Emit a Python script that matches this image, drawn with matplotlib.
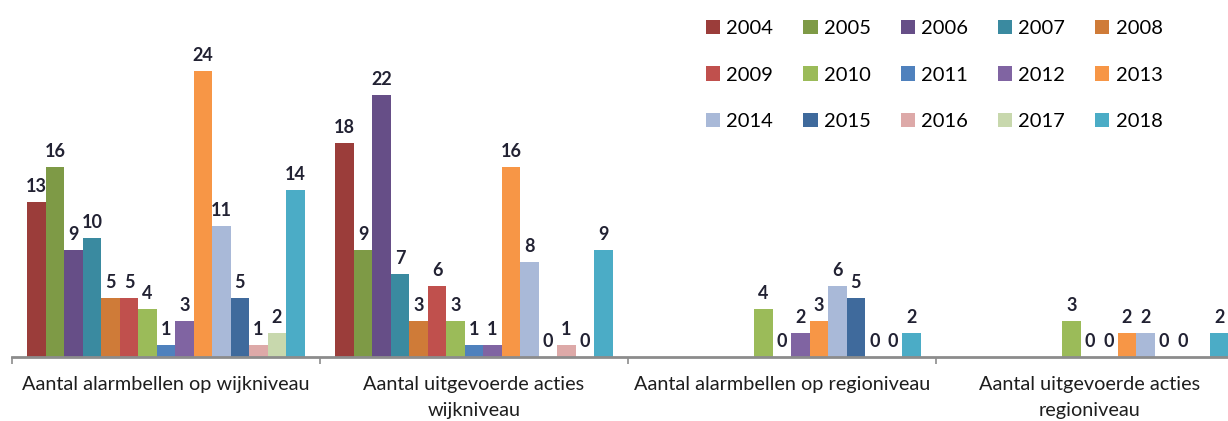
import numpy as np
import matplotlib
matplotlib.use("Agg")
import matplotlib.pyplot as plt

plt.rcParams['font.family'] = ['Lato', 'DejaVu Sans']

years = ['2004', '2005', '2006', '2007', '2008', '2009', '2010', '2011',
         '2012', '2013', '2014', '2015', '2016', '2017', '2018']
categories = ['Aantal alarmbellen op wijkniveau',
              'Aantal uitgevoerde acties\nwijkniveau',
              'Aantal alarmbellen op regioniveau',
              'Aantal uitgevoerde acties\nregioniveau']
# one list per category, values per year (None = no data)
alarm_wijk = [13, 16, 9, 10, 5, 5, 4, 1, 3, 24, 11, 5, 1, 2, 14]
acties_wijk = [18, 9, 22, 7, 3, 6, 3, 1, 1, 16, 8, 0, 1, 0, 9]
alarm_regio = [None, None, None, None, None, None, 4, 0, 2, 3, 6, 5, 0, 0, 2]
acties_regio = [None, None, None, None, None, None, 3, 0, 0, 2, 2, 0, 0, None, 2]
colors = ['#9B3D3A', '#7E9A46', '#664E87', '#3A8AA0', '#CF7B38',
          '#C0504D', '#9BBB59', '#4F81BD', '#8064A2', '#F79646',
          '#A9B9D8', '#3F6A9C', '#DDA9A8', '#C8D8AD', '#4BACC6']

data = np.array([alarm_wijk, acties_wijk, alarm_regio, acties_regio], dtype=float)

fig = plt.figure(figsize=(12.28, 4.21), dpi=100)
ax = fig.add_axes([12 / 1228, 64 / 421, 1232 / 1228, 357 / 421])

x = np.arange(len(categories))
w = 0.06
handles = []
for i, yr in enumerate(years):
    pos = x - 7 * w + i * w
    vals = data[:, i]
    b = ax.bar(pos, np.nan_to_num(vals), w, color=colors[i], label=yr)
    for j, v in enumerate(vals):
        if np.isnan(v):
            b[j].set_visible(False)
            continue
        ax.annotate(str(int(v)), (pos[j], v), xytext=(0, 5), textcoords='offset points',
                    ha='center', va='bottom', fontsize=13, fontweight='bold', color='#222233')
    handles.append(b)

ax.set_xlim(-0.5, 3.5)
ax.set_ylim(0, 30)
ax.set_yticks([])
for s in ['top', 'right', 'left']:
    ax.spines[s].set_visible(False)
ax.spines['bottom'].set_color('#8C8C8C')
ax.spines['bottom'].set_linewidth(2)
ax.set_xticks([-0.5, 0.5, 1.5, 2.5, 3.5])
ax.set_xticklabels([])
ax.tick_params(axis='x', length=5, width=1.2, color='#8C8C8C')
for j, c in enumerate(categories):
    ax.text(x[j], -1.6, c, ha='center', va='top', fontsize=14.3, color='#1E1E1E',
            linespacing=1.65)

# legend row-major order: 3 rows x 5 columns
order = [r * 5 + c for c in range(5) for r in range(3)]
leg = fig.legend([handles[k] for k in order], [years[k] for k in order],
                 ncol=5, loc='upper left', bbox_to_anchor=(688 / 1228, 1 - 2 / 421),
                 frameon=False, fontsize=14.5, handlelength=0.7, handleheight=0.7,
                 handletextpad=0.3, columnspacing=1.5, labelspacing=1.45)

fig.savefig('out.png', dpi=100)
